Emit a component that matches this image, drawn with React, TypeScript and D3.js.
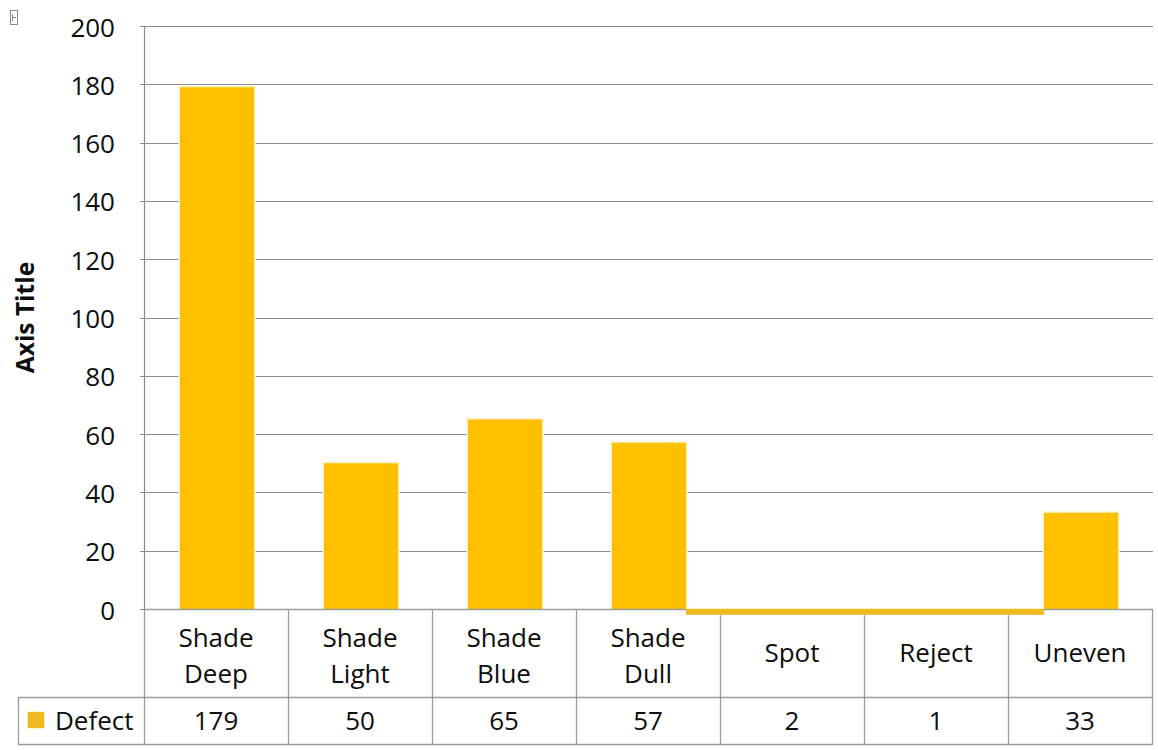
import React from "react";
import * as d3 from "d3";

// Defect counts per category
const categories = ["Shade Deep", "Shade Light", "Shade Blue", "Shade Dull", "Spot", "Reject", "Uneven"];
const defectValues = [179, 50, 65, 57, 2, 1, 33];
const seriesName = "Defect";
const yTicks = [0, 20, 40, 60, 80, 100, 120, 140, 160, 180, 200];
const yAxisTitle = "Axis Title";

const W = 1158;
const H = 750;
const plotLeft = 144;
const plotRight = 1153;
const plotTop = 26;
const plotBottom = 609;
const catRowBottom = 697;
const tableBottom = 744;
const tableLeft = 18;

const FONT = "'Open Sans', 'Noto Sans', sans-serif";
const BAR = "#FFC000";
const BAR_MUTED = "#F2BA22";
const GRID = "#8c8c8c";
const TABLE = "#9c9c9c";
const TEXT = "#0d0d0d";

export default function App() {
  const x = d3.scaleBand<string>().domain(categories).range([plotLeft, plotRight - 1]).padding(0);
  const y = d3.scaleLinear().domain([0, 200]).range([plotBottom, plotTop]);
  const bw = x.bandwidth();
  const barW = bw * 0.514;
  const barX = (c: string) => (x(c) as number) + (bw - barW) / 2 + 1;

  // Spot and Reject are too small to show above zero; they render as a thin band under the baseline
  const smallIdx = defectValues.map((v, i) => (v < 5 ? i : -1)).filter((i) => i >= 0);
  const bandStart = barX(categories[smallIdx[0] - 1]) + barW;
  const bandEnd = barX(categories[smallIdx[smallIdx.length - 1] + 1]);
  const bandH = y(0) - y(d3.max(smallIdx.map((i) => defectValues[i])) as number);

  const catMid = (plotBottom + catRowBottom) / 2;
  const valMid = (catRowBottom + tableBottom) / 2;

  return (
    <svg
      width={W}
      height={H}
      style={{ position: "absolute", left: 0, top: 0, display: "block", background: "#fff" }}
      fontFamily={FONT}
    >
      <rect x={0} y={0} width={W} height={H} fill="#fff" />

      {/* small handle in the corner */}
      <g stroke="#8a8a8a" strokeWidth={1} fill="none">
        <rect x={10.5} y={10.5} width={7} height={14} />
        <line x1={12.5} y1={17.5} x2={16} y2={17.5} />
        <line x1={12.5} y1={14} x2={12.5} y2={21.5} />
      </g>

      {/* gridlines */}
      {yTicks.map((t) => (
        <line
          key={"g" + t}
          x1={plotLeft - 4}
          x2={plotRight}
          y1={Math.round(y(t)) + 0.5}
          y2={Math.round(y(t)) + 0.5}
          stroke={GRID}
          strokeWidth={1.2}
        />
      ))}
      <line x1={plotLeft + 0.5} x2={plotLeft + 0.5} y1={plotTop} y2={plotBottom} stroke={GRID} strokeWidth={1.2} />

      {/* y tick labels */}
      {yTicks.map((t) => (
        <text key={"t" + t} x={115} y={y(t) + 10.5} textAnchor="end" fontSize={26} fill={TEXT}>
          {t}
        </text>
      ))}

      {/* axis title */}
      <text
        transform={`translate(34,${(plotTop + plotBottom) / 2}) rotate(-90)`}
        textAnchor="middle"
        fontSize={24.5}
        fontWeight="bold"
        fill={TEXT}
      >
        {yAxisTitle}
      </text>

      {/* bars */}
      {categories.map((c, i) => {
        const v = defectValues[i];
        if (v < 5) return null;
        const top = y(v);
        return (
          <g key={"b" + c}>
            <rect x={barX(c) - 1.5} y={top - 1.5} width={barW + 3} height={y(0) - top + 1.5} fill="#fff3bf" />
            <rect x={barX(c)} y={top} width={barW} height={y(0) - top} fill={BAR} />
          </g>
        );
      })}

      {/* data table */}
      <g stroke={TABLE} strokeWidth={1.3} fill="none">
        <line x1={plotLeft} x2={plotRight} y1={plotBottom + 0.5} y2={plotBottom + 0.5} />
        <line x1={tableLeft} x2={plotRight} y1={catRowBottom + 0.5} y2={catRowBottom + 0.5} />
        <line x1={tableLeft} x2={plotRight} y1={tableBottom + 0.5} y2={tableBottom + 0.5} />
        <line x1={tableLeft + 0.5} x2={tableLeft + 0.5} y1={catRowBottom} y2={tableBottom} />
        {categories.map((c) => (
          <line
            key={"v" + c}
            x1={Math.round(x(c) as number) + 0.5}
            x2={Math.round(x(c) as number) + 0.5}
            y1={plotBottom}
            y2={tableBottom}
          />
        ))}
        <line x1={plotRight - 0.5} x2={plotRight - 0.5} y1={plotBottom} y2={tableBottom} />
      </g>

      {/* thin band for the near-zero categories */}
      <rect x={bandStart} y={y(0) - 1} width={bandEnd - bandStart} height={bandH + 1} fill="#fff3bf" />
      <rect x={bandStart} y={y(0)} width={bandEnd - bandStart} height={bandH} fill={BAR_MUTED} />

      {/* category labels */}
      {categories.map((c) => {
        const words = c.split(" ");
        const cx = (x(c) as number) + bw / 2;
        if (words.length === 1) {
          return (
            <text key={"c" + c} x={cx} y={catMid + 9} textAnchor="middle" fontSize={26} fill={TEXT}>
              {c}
            </text>
          );
        }
        return (
          <text key={"c" + c} textAnchor="middle" fontSize={26} fill={TEXT}>
            <tspan x={cx} y={catMid - 6}>{words[0]}</tspan>
            <tspan x={cx} y={catMid + 30}>{words.slice(1).join(" ")}</tspan>
          </text>
        );
      })}

      {/* legend key and value row */}
      <rect x={27} y={711} width={18} height={18} fill="#fff3bf" />
      <rect x={28} y={712} width={16} height={16} fill={BAR_MUTED} />
      <text x={55} y={valMid + 9.5} fontSize={26} fill={TEXT}>
        {seriesName}
      </text>
      {categories.map((c, i) => (
        <text
          key={"d" + c}
          x={(x(c) as number) + bw / 2}
          y={valMid + 9.5}
          textAnchor="middle"
          fontSize={26}
          fill={TEXT}
        >
          {defectValues[i]}
        </text>
      ))}
    </svg>
  );
}
